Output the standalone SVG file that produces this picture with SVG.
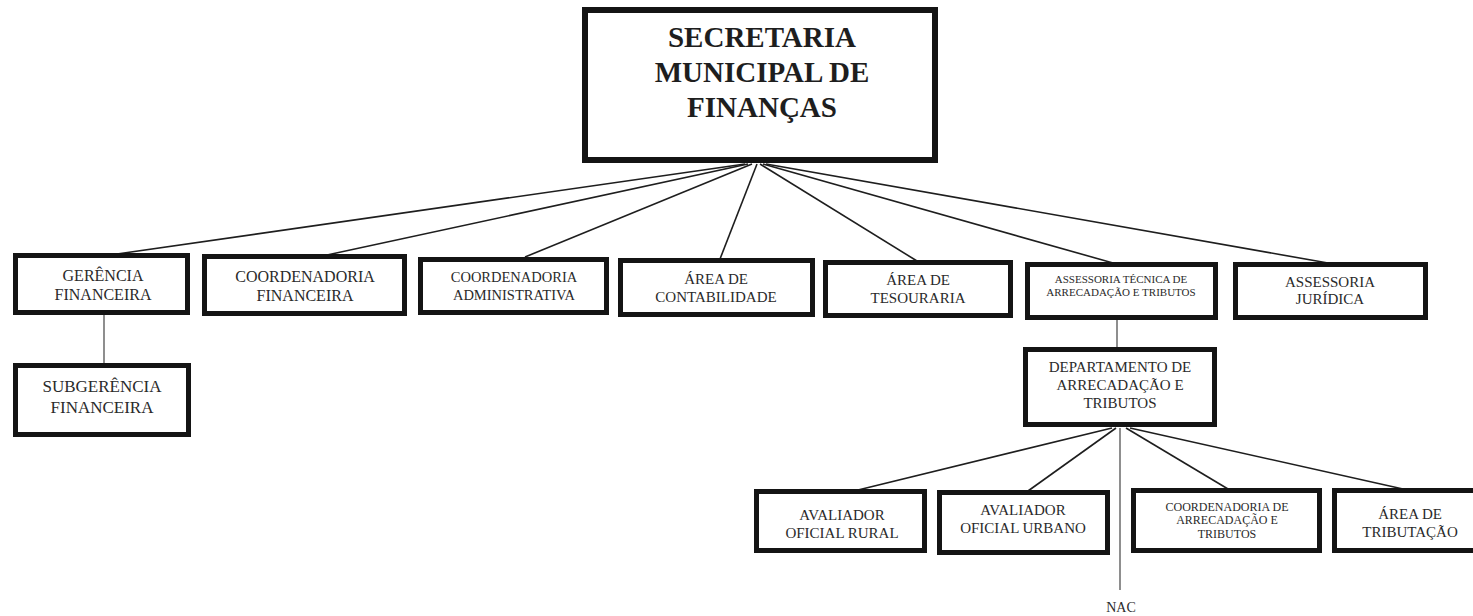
<svg xmlns="http://www.w3.org/2000/svg" width="1473" height="616" viewBox="0 0 1473 616">
<style>
.box{fill:#fff;stroke:#141414;stroke-width:5}
.t{font-family:"Liberation Serif","Times New Roman",serif;fill:#2a2a2a;text-anchor:middle}
.title{font-family:"Liberation Serif","Times New Roman",serif;font-weight:bold;fill:#1e1e1e;text-anchor:middle;font-size:29px}
.c{stroke:#1e1e1e;stroke-width:1.6;fill:none}
.cl{stroke:#444;stroke-width:1.2;fill:none}
</style>
<rect width="1473" height="616" fill="#fff"/>
<g id="connectors">
<line class="c" x1="745" y1="164" x2="117" y2="254"/>
<line class="c" x1="748" y1="164" x2="327" y2="255"/>
<line class="c" x1="752" y1="164" x2="525" y2="257"/>
<line class="c" x1="757" y1="164" x2="720" y2="259"/>
<line class="c" x1="760" y1="164" x2="917" y2="261"/>
<line class="c" x1="763" y1="164" x2="1113" y2="263"/>
<line class="c" x1="766" y1="164" x2="1328" y2="263"/>
<line class="cl" x1="104" y1="314" x2="104" y2="364"/>
<line class="cl" x1="1117" y1="319" x2="1117" y2="348"/>
<line class="c" x1="1112" y1="428" x2="858" y2="490"/>
<line class="c" x1="1116" y1="428" x2="1028" y2="491"/>
<line class="c" x1="1126" y1="428" x2="1228" y2="489"/>
<line class="c" x1="1130" y1="428" x2="1403" y2="489"/>
<line class="cl" x1="1120" y1="428" x2="1120" y2="590"/>
</g>
<g id="secretaria">
<rect class="box" x="585" y="10" width="350" height="150" style="stroke-width:6"/>
<text class="title" x="762" y="47">SECRETARIA</text>
<text class="title" x="762" y="82">MUNICIPAL DE</text>
<text class="title" x="762" y="117">FINANÇAS</text>
</g>
<g id="gerencia">
<rect class="box" x="15.5" y="255.5" width="172" height="57"/>
<text class="t" x="103" y="281" font-size="16">GERÊNCIA</text>
<text class="t" x="103" y="300" font-size="16">FINANCEIRA</text>
</g>
<g id="coord-financeira">
<rect class="box" x="204.5" y="256.5" width="200" height="57"/>
<text class="t" x="305" y="282" font-size="16">COORDENADORIA</text>
<text class="t" x="305" y="301" font-size="16">FINANCEIRA</text>
</g>
<g id="coord-administrativa">
<rect class="box" x="420.5" y="259.5" width="186" height="53"/>
<text class="t" x="514" y="282" font-size="14.5">COORDENADORIA</text>
<text class="t" x="514" y="300" font-size="14.5">ADMINISTRATIVA</text>
</g>
<g id="contabilidade">
<rect class="box" x="620.5" y="260.5" width="192" height="54"/>
<text class="t" x="716" y="284" font-size="15">ÁREA DE</text>
<text class="t" x="716" y="302" font-size="15">CONTABILIDADE</text>
</g>
<g id="tesouraria">
<rect class="box" x="825.5" y="262.5" width="185" height="53"/>
<text class="t" x="918" y="285" font-size="15">ÁREA DE</text>
<text class="t" x="918" y="303" font-size="15">TESOURARIA</text>
</g>
<g id="assessoria-tecnica">
<rect class="box" x="1027.5" y="264.5" width="188" height="53"/>
<text class="t" x="1121" y="283" font-size="11">ASSESSORIA TÉCNICA DE</text>
<text class="t" x="1121" y="296" font-size="11">ARRECADAÇÃO E TRIBUTOS</text>
</g>
<g id="assessoria-juridica">
<rect class="box" x="1235.5" y="264.5" width="190" height="53"/>
<text class="t" x="1330" y="287" font-size="15">ASSESSORIA</text>
<text class="t" x="1330" y="304" font-size="15">JURÍDICA</text>
</g>
<g id="subgerencia">
<rect class="box" x="15.5" y="365.5" width="173" height="69"/>
<text class="t" x="102" y="392" font-size="17">SUBGERÊNCIA</text>
<text class="t" x="102" y="413" font-size="17">FINANCEIRA</text>
</g>
<g id="departamento">
<rect class="box" x="1025.5" y="349.5" width="189" height="75"/>
<text class="t" x="1120" y="372" font-size="15">DEPARTAMENTO DE</text>
<text class="t" x="1120" y="390" font-size="15">ARRECADAÇÃO E</text>
<text class="t" x="1120" y="408" font-size="15">TRIBUTOS</text>
</g>
<g id="avaliador-rural">
<rect class="box" x="756.5" y="491.5" width="168" height="59"/>
<text class="t" x="842" y="520" font-size="15">AVALIADOR</text>
<text class="t" x="842" y="538" font-size="15">OFICIAL RURAL</text>
</g>
<g id="avaliador-urbano">
<rect class="box" x="939.5" y="492.5" width="168" height="60"/>
<text class="t" x="1023" y="515" font-size="15">AVALIADOR</text>
<text class="t" x="1023" y="533" font-size="15">OFICIAL URBANO</text>
</g>
<g id="coord-arrecadacao">
<rect class="box" x="1133.5" y="490.5" width="186" height="60"/>
<text class="t" x="1227" y="511" font-size="12">COORDENADORIA DE</text>
<text class="t" x="1227" y="524" font-size="12">ARRECADAÇÃO E</text>
<text class="t" x="1227" y="538" font-size="12">TRIBUTOS</text>
</g>
<g id="tributacao">
<rect class="box" x="1334.5" y="490.5" width="150" height="60"/>
<text class="t" x="1410" y="519" font-size="15">ÁREA DE</text>
<text class="t" x="1410" y="537" font-size="15">TRIBUTAÇÃO</text>
</g>
<g id="nac">
<text class="t" x="1121" y="612" font-size="14">NAC</text>
</g>
</svg>
